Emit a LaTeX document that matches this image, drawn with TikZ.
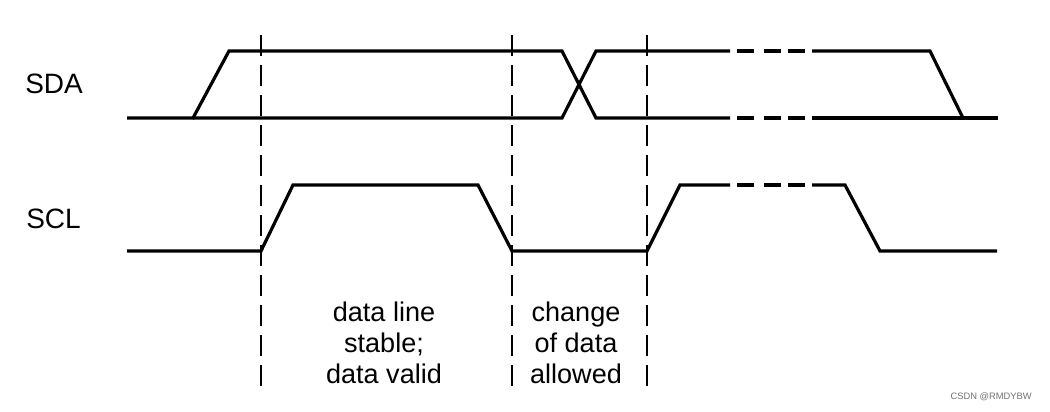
\documentclass[tikz,border=0pt]{standalone}
\usepackage{fontspec}
\setmainfont{Liberation Sans}
\begin{document}
\begin{tikzpicture}[x=0.75pt,y=-0.75pt,
  sig/.style={line width=2.4pt, line join=miter},
  guide/.style={line width=1.05pt, dash pattern=on 15.75pt off 6.75pt},
  lbl/.style={inner sep=0pt, font=\fontsize{21}{25}\selectfont},
  note/.style={inner sep=0pt, align=center, font=\fontsize{20.3}{23.25}\selectfont},
  wm/.style={inner sep=0pt, text=black!55, font=\fontsize{7}{9}\selectfont}]
\useasboundingbox (0,0) rectangle (1050,411);
% vertical guide lines
\foreach \x/\n in {261/ga,512/gb,647/gc} {
  \coordinate (\n t) at (\x,35);
  \coordinate (\n b) at (\x,387);
  \draw[guide] (\n t) -- (\n b);
}
% labels
\node[lbl, anchor=base west] (sda) at (25,93) {SDA};
\node[lbl, anchor=base west] (scl) at (26,228) {SCL};
% SDA waveform
\draw[sig] (127,118) -- (193,118) -- (229,51) -- (562,51) -- (596,118) -- (730,118);
\draw[sig] (193,118) -- (562,118) -- (596,51) -- (730,51);
\foreach \y in {51,118} {
  \foreach \a/\b in {737/754,764/781,788/805} {
    \draw[sig] (\a,\y) -- (\b,\y);
  }
}
\draw[sig] (812,51) -- (930,51) -- (963,118);
\draw[sig] (812,118) -- (998,118);
% SCL waveform
\draw[sig] (127,251) -- (261,251) -- (293,185) -- (478,185) -- (512,251) -- (647,251) -- (680,185) -- (730,185);
\foreach \a/\b in {737/754,764/781,788/805} {
  \draw[sig] (\a,185) -- (\b,185);
}
\draw[sig] (812,185) -- (845,185) -- (880,251) -- (997,251);
% annotations
\node[note, anchor=north] (stable) at (384,302) {data line\\stable;\\data valid};
\node[note, anchor=north] (change) at (576,302) {change\\of data\\allowed};
\node[wm, anchor=base east] (mark) at (1032,399) {CSDN @RMDYBW};
\end{tikzpicture}
\end{document}
